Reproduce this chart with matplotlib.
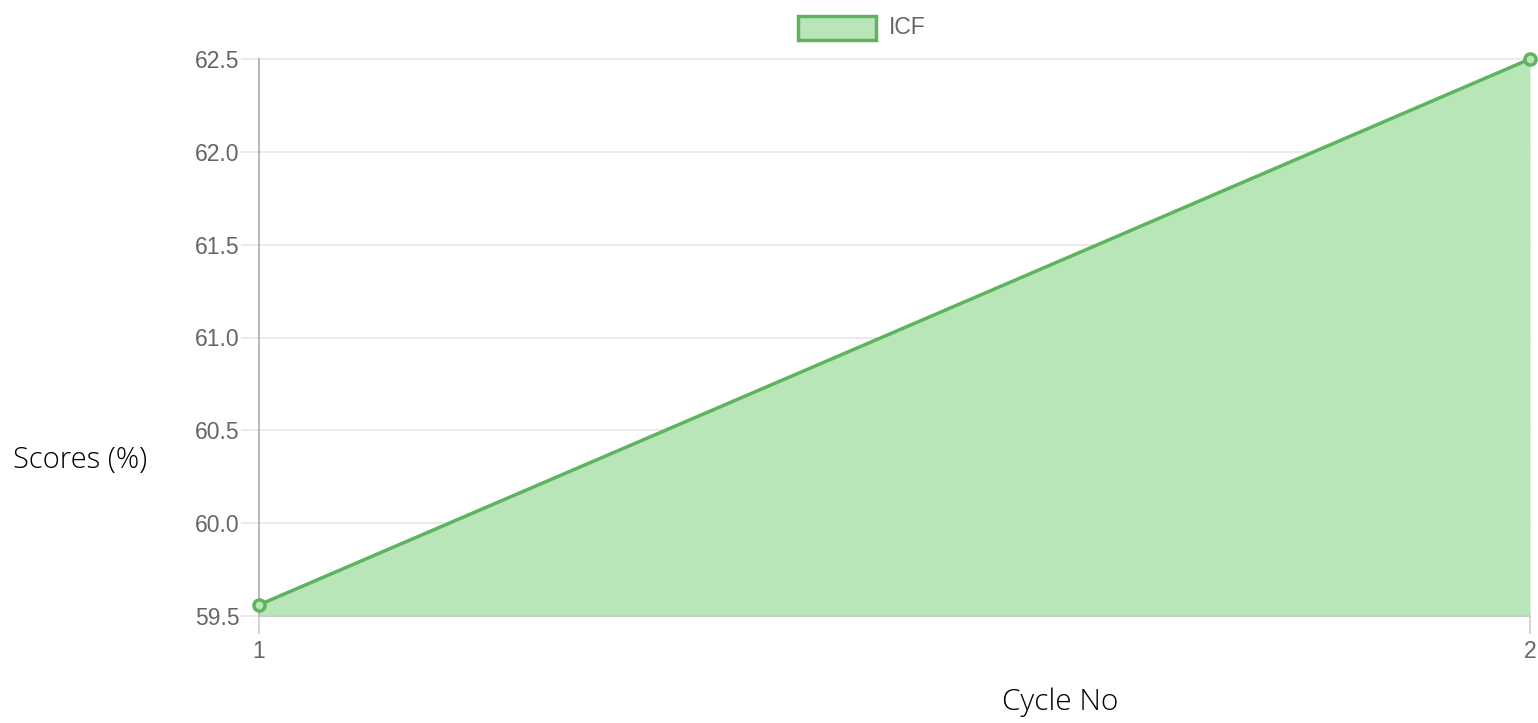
import matplotlib.pyplot as plt
from matplotlib.patches import Rectangle

cycles = ["1", "2"]
scores = [59.56, 62.5]
y_ticks = [59.5, 60.0, 60.5, 61.0, 61.5, 62.0, 62.5]

line_color = "#5eb45e"
fill_color = "#b8e6b8"
tick_color = "#666666"

plt.rcParams["font.family"] = ["Liberation Sans", "DejaVu Sans"]

fig = plt.figure(figsize=(15.38, 7.23), dpi=100)
ax = fig.add_axes([259 / 1538, 1 - 616 / 723, (1530 - 259) / 1538, (616 - 59) / 723])

x = list(range(len(cycles)))
ax.fill_between(x, scores, y_ticks[0], color=fill_color, linewidth=0, zorder=2)
ax.plot(x, scores, color=line_color, linewidth=2.5, marker="o", markersize=8,
        markerfacecolor=fill_color, markeredgecolor=line_color, markeredgewidth=2.5,
        zorder=3, clip_on=False)

ax.set_xlim(0, len(cycles) - 1)
ax.set_ylim(y_ticks[0], y_ticks[-1])
ax.set_xticks(x)
ax.set_xticklabels(cycles)
ax.set_yticks(y_ticks)
ax.set_yticklabels([f"{v:.1f}" for v in y_ticks])

ax.grid(axis="y", color="#e6e6e6", linewidth=1.2, zorder=0)
for gl in ax.get_ygridlines():
    gl.set_clip_on(False)
ax.tick_params(axis="y", length=13, color="#e6e6e6", width=1.2, labelsize=16.5,
               labelcolor=tick_color, pad=1)
ax.tick_params(axis="x", length=13, color="#cccccc", width=1.2, labelsize=16.5,
               labelcolor=tick_color, pad=4)
for side in ["top", "right"]:
    ax.spines[side].set_visible(False)
ax.spines["left"].set_color("#aaaaaa")
ax.spines["left"].set_linewidth(1.2)
ax.spines["bottom"].set_color("#cccccc")
ax.spines["bottom"].set_linewidth(1.2)

# legend drawn by hand to match the boxed swatch
fig.patches.append(Rectangle((798 / 1538, 1 - 40 / 723), 78 / 1538, 24 / 723,
                             transform=fig.transFigure, facecolor=fill_color,
                             edgecolor=line_color, linewidth=2.5))
fig.text(889 / 1538, 1 - 27 / 723, "ICF", fontsize=16.5, color=tick_color,
         ha="left", va="center")

label_font = ["Open Sans", "DejaVu Sans"]
fig.text(80 / 1538, 1 - 460 / 723, "Scores (%)", fontsize=21, family=label_font,
         fontweight="light", ha="center", va="center")
fig.text(1060 / 1538, 1 - 702 / 723, "Cycle No", fontsize=21.5, family=label_font,
         fontweight="light", ha="center", va="center")

fig.savefig("out.png", dpi=100)
